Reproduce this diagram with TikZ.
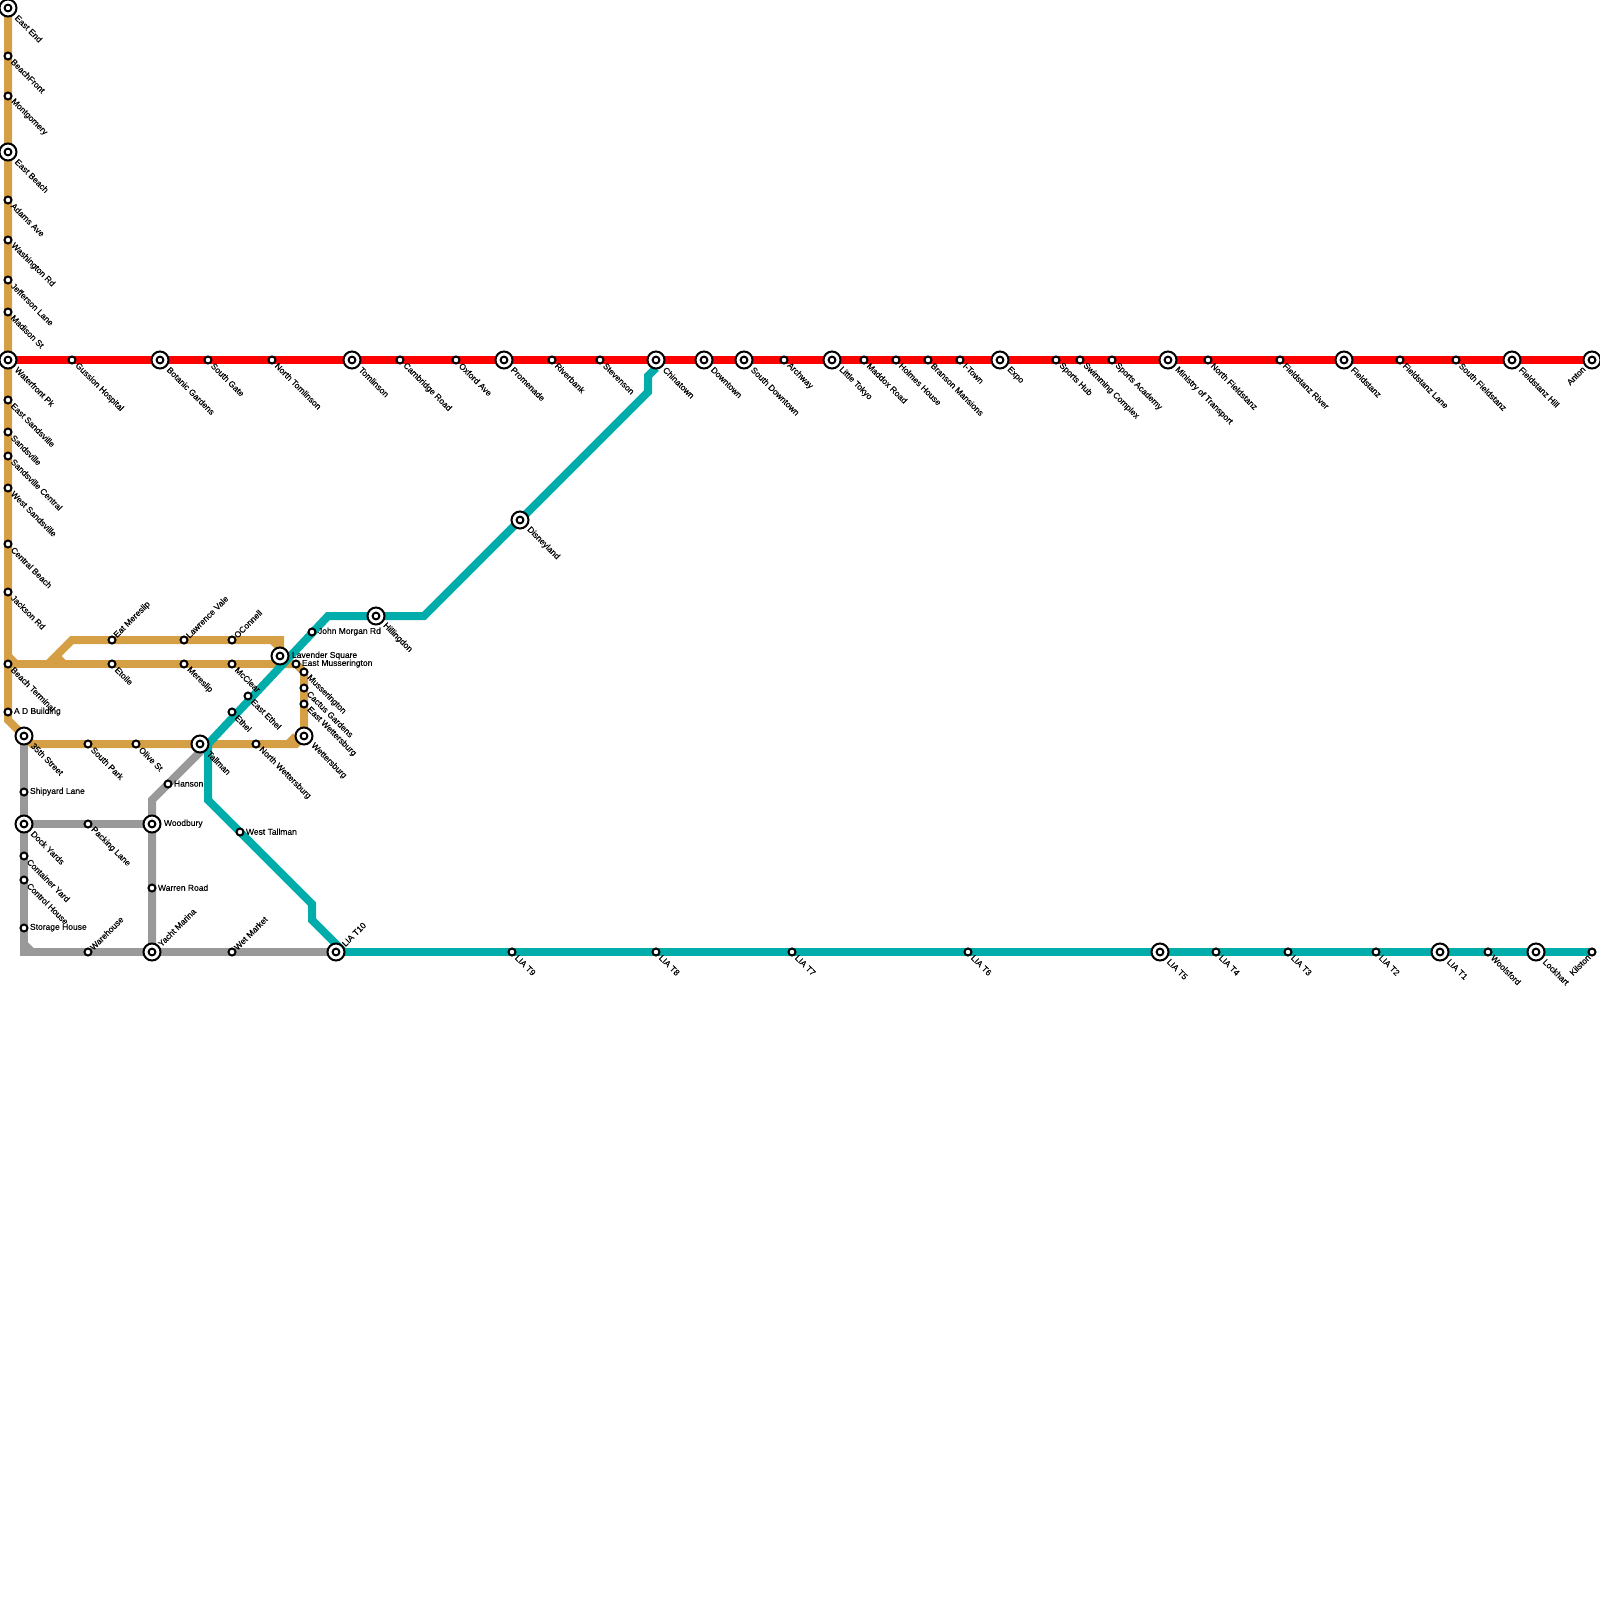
\documentclass[tikz,border=0pt]{standalone}
\usepackage{fontspec}
\setmainfont{Liberation Sans}
\newfontfamily\lblfont[FakeBold=0.25]{Liberation Sans}
\pgfdeclarelayer{bgl}
\pgfsetlayers{bgl,main}
\definecolor{ochre}{HTML}{D49F45}
\definecolor{tealline}{HTML}{00ADAB}
\definecolor{greyline}{HTML}{999999}
\definecolor{redline}{HTML}{FF0000}
\tikzset{
  x=1pt,y=-1pt,
  smallstn/.style={circle,draw=black,fill=white,line width=2pt,minimum size=7pt,inner sep=0pt,outer sep=0pt},
  innerstn/.style={circle,draw=black,fill=white,line width=2pt,minimum size=6.8pt,inner sep=0pt,outer sep=0pt},
  bigstn/.style={circle,draw=black,fill=white,line width=2pt,minimum size=17pt,inner sep=0pt,outer sep=0pt},
  lab/.style={inner sep=0pt,outer sep=0pt,font=\lblfont\fontsize{8.5}{9}\selectfont,text=black},
  rail/.style={line width=8pt,line join=miter,line cap=butt},
}
\newcommand{\Sse}[4]{\node[smallstn] (#1) at (#2,#3) {}; \node[lab,rotate=-45,anchor=west] (#1-l) at (#2+4.5,#3+4.5) {#4};}
\newcommand{\Sne}[4]{\node[smallstn] (#1) at (#2,#3) {}; \node[lab,rotate=45,anchor=west] (#1-l) at (#2+3.5,#3-3.5) {#4};}
\newcommand{\Se}[4]{\node[smallstn] (#1) at (#2,#3) {}; \node[lab,anchor=west] (#1-l) at (#2+6,#3-0.3) {#4};}
\newcommand{\Ssw}[4]{\node[smallstn] (#1) at (#2,#3) {}; \node[lab,rotate=45,anchor=east] (#1-l) at (#2-3,#3+4) {#4};}
\newcommand{\Bring}[3]{\node[bigstn] (#1) at (#2,#3) {}; \node[innerstn] (#1-i) at (#2,#3) {};}
\newcommand{\Bse}[4]{\Bring{#1}{#2}{#3}\node[lab,rotate=-45,anchor=west] (#1-l) at (#2+8.5,#3+8.5) {#4};}
\newcommand{\Bne}[4]{\Bring{#1}{#2}{#3}\node[lab,rotate=45,anchor=west] (#1-l) at (#2+7.5,#3-7) {#4};}
\newcommand{\Be}[4]{\Bring{#1}{#2}{#3}\node[lab,anchor=west] (#1-l) at (#2+12,#3-0.3) {#4};}
\newcommand{\Bsw}[4]{\Bring{#1}{#2}{#3}\node[lab,rotate=45,anchor=east] (#1-l) at (#2-8,#3+8) {#4};}
\begin{document}
\begin{tikzpicture}
\useasboundingbox (0,0) rectangle (1600,1600);
% ochre west
\Bse{eastend}{8}{8}{East End}
\Sse{beachfront}{8}{56}{BeachFront}
\Sse{montgomery}{8}{96}{Montgomery}
\Bse{eastbeach}{8}{152}{East Beach}
\Sse{adams}{8}{200}{Adams Ave}
\Sse{washington}{8}{240}{Washington Rd}
\Sse{jefferson}{8}{280}{Jefferson Lane}
\Sse{madison}{8}{312}{Madison St}
\Bse{waterfront}{8}{360}{Waterfront Pk}
\Sse{esand}{8}{400}{East Sandsville}
\Sse{sand}{8}{432}{Sandsville}
\Sse{sandc}{8}{456}{Sandsville Central}
\Sse{wsand}{8}{488}{West Sandsville}
\Sse{centralb}{8}{544}{Central Beach}
\Sse{jackson}{8}{592}{Jackson Rd}
\Sse{beacht}{8}{664}{Beach Terminal}
\Se{adb}{8}{712}{A D Building}
\Bse{st35}{24}{736}{35th Street}
\Sse{southpark}{88}{744}{South Park}
\Sse{olive}{136}{744}{Olive St}
\Bse{tallman}{200}{744}{Tallman}
\Sse{nwett}{256}{744}{North Wettersburg}
\Bse{wett}{304}{736}{Wettersburg}
\Sse{ewett}{304}{704}{East Wettersburg}
\Sse{cactus}{304}{688}{Cactus Gardens}
\Sse{muss}{304}{672}{Musserington}
\Se{emuss}{296}{664}{East Musserington}
\Be{lavender}{280}{656}{Lavender Square}
\Sne{oconnell}{232}{640}{OConnell}
\Sse{mcclear}{232}{664}{McClear}
\Sne{lawrence}{184}{640}{Lawrence Vale}
\Sse{mereslip}{184}{664}{Mereslip}
\Sne{eatmere}{112}{640}{Eat Mereslip}
\Sse{etoile}{112}{664}{Etoile}
\Se{johnm}{312}{632}{John Morgan Rd}
\Sse{eethel}{248}{696}{East Ethel}
\Sse{ethel}{232}{712}{Ethel}
\Bse{hilling}{376}{616}{Hillingdon}
\Bse{disney}{520}{520}{Disneyland}
\Se{wtallman}{240}{832}{West Tallman}
% grey
\Se{shipyard}{24}{792}{Shipyard Lane}
\Bse{dock}{24}{824}{Dock Yards}
\Sse{container}{24}{856}{Container Yard}
\Sse{control}{24}{880}{Control House}
\Se{storage}{24}{928}{Storage House}
\Sse{packing}{88}{824}{Packing Lane}
\Sne{warehouse}{88}{952}{Warehouse}
\Be{woodbury}{152}{824}{Woodbury}
\Se{warren}{152}{888}{Warren Road}
\Bne{yacht}{152}{952}{Yacht Marina}
\Se{hanson}{168}{784}{Hanson}
\Sne{wetmarket}{232}{952}{Wet Market}
% red
\Sse{gussion}{72}{360}{Gussion Hospital}
\Bse{botanic}{160}{360}{Botanic Gardens}
\Sse{southgate}{208}{360}{South Gate}
\Sse{ntomlinson}{272}{360}{North Tomlinson}
\Bse{tomlinson}{352}{360}{Tomlinson}
\Sse{cambridge}{400}{360}{Cambridge Road}
\Sse{oxford}{456}{360}{Oxford Ave}
\Bse{promenade}{504}{360}{Promenade}
\Sse{riverbank}{552}{360}{Riverbank}
\Sse{stevenson}{600}{360}{Stevenson}
\Bse{chinatown}{656}{360}{Chinatown}
\Bse{downtown}{704}{360}{Downtown}
\Bse{sdowntown}{744}{360}{South Downtown}
\Sse{archway}{784}{360}{Archway}
\Bse{ltokyo}{832}{360}{Little Tokyo}
\Sse{maddox}{864}{360}{Maddox Road}
\Sse{holmes}{896}{360}{Holmes House}
\Sse{branson}{928}{360}{Branson Mansions}
\Sse{itown}{960}{360}{I-Town}
\Bse{expo}{1000}{360}{Expo}
\Sse{sportshub}{1056}{360}{Sports Hub}
\Sse{swimming}{1080}{360}{Swimming Complex}
\Sse{sportsac}{1112}{360}{Sports Academy}
\Bse{ministry}{1168}{360}{Ministry of Transport}
\Sse{nfield}{1208}{360}{North Fieldstanz}
\Sse{friver}{1280}{360}{Fieldstanz River}
\Bse{fieldstanz}{1344}{360}{Fieldstanz}
\Sse{flane}{1400}{360}{Fieldstanz Lane}
\Sse{sfield}{1456}{360}{South Fieldstanz}
\Bse{fhill}{1512}{360}{Fieldstanz Hill}
\Bsw{anton}{1592}{360}{Anton}
% teal bottom
\Bne{liat10}{336}{952}{LIA T10}
\Sse{liat9}{512}{952}{LIA T9}
\Sse{liat8}{656}{952}{LIA T8}
\Sse{liat7}{792}{952}{LIA T7}
\Sse{liat6}{968}{952}{LIA T6}
\Bse{liat5}{1160}{952}{LIA T5}
\Sse{liat4}{1216}{952}{LIA T4}
\Sse{liat3}{1288}{952}{LIA T3}
\Sse{liat2}{1376}{952}{LIA T2}
\Bse{liat1}{1440}{952}{LIA T1}
\Sse{woolsford}{1488}{952}{Woolsford}
\Bse{lockhart}{1536}{952}{Lockhart}
\Ssw{kilston}{1592}{952}{Kilston}
% bend points
\coordinate (oTop) at (8,0);
\coordinate (oA) at (8,720);
\coordinate (oB) at (32,744);
\coordinate (oC) at (296,744);
\coordinate (oD) at (304,736);
\coordinate (oE) at (304,672);
\coordinate (oF) at (296,664);
\coordinate (oG) at (8,656);
\coordinate (oH) at (16,664);
\coordinate (oI) at (48,664);
\coordinate (oJ) at (72,640);
\coordinate (oK) at (280,640);
\coordinate (oL) at (272,640);
\coordinate (oM) at (280,648);
\coordinate (oN) at (56,656);
\coordinate (oO) at (64,664);
\coordinate (oP) at (288,744);
\coordinate (oQ) at (296,736);
\coordinate (oR) at (280,664);
\coordinate (gA) at (24,952);
\coordinate (gB) at (24,944);
\coordinate (gC) at (32,952);
\coordinate (gD) at (152,800);
\coordinate (t0) at (656,368);
\coordinate (tA) at (648,376);
\coordinate (tB) at (648,392);
\coordinate (tC) at (424,616);
\coordinate (tD) at (328,616);
\coordinate (tE) at (208,744);
\coordinate (tF) at (208,800);
\coordinate (tG) at (312,904);
\coordinate (tH) at (312,920);
\coordinate (tI) at (344,952);
\begin{pgfonlayer}{bgl}
% red
\draw[rail,redline] (waterfront.center) -- (anton.center);
% ochre
\draw[rail,ochre] (oTop) -- (oA) -- (oB) -- (oC) -- (oD) -- (oE) -- (oF) -- (oR);
\draw[rail,ochre] (oP) -- (oQ);
\draw[rail,ochre] (oG) -- (oH);
\draw[rail,ochre] (beacht.center) -- (oR);
\draw[rail,ochre] (oI) -- (oJ) -- (oK) -- (lavender.center);
\draw[rail,ochre] (oL) -- (oM);
\draw[rail,ochre] (oN) -- (oO);
% grey
\draw[rail,greyline] (st35.center) -- (gA) -- (liat10.center);
\draw[rail,greyline] (gB) -- (gC);
\draw[rail,greyline] (dock.center) -- (woodbury.center);
\draw[rail,greyline] (yacht.center) -- (gD) -- (tE);
% teal
\draw[rail,tealline] (t0) -- (tA) -- (tB) -- (disney.center) -- (tC) -- (tD) -- (tE) -- (tallman.center);
\draw[rail,tealline] (tE) -- (tF) -- (tG) -- (tH) -- (tI);
\draw[rail,tealline] (liat10.center) -- (kilston.center);
\end{pgfonlayer}
\end{tikzpicture}
\end{document}
